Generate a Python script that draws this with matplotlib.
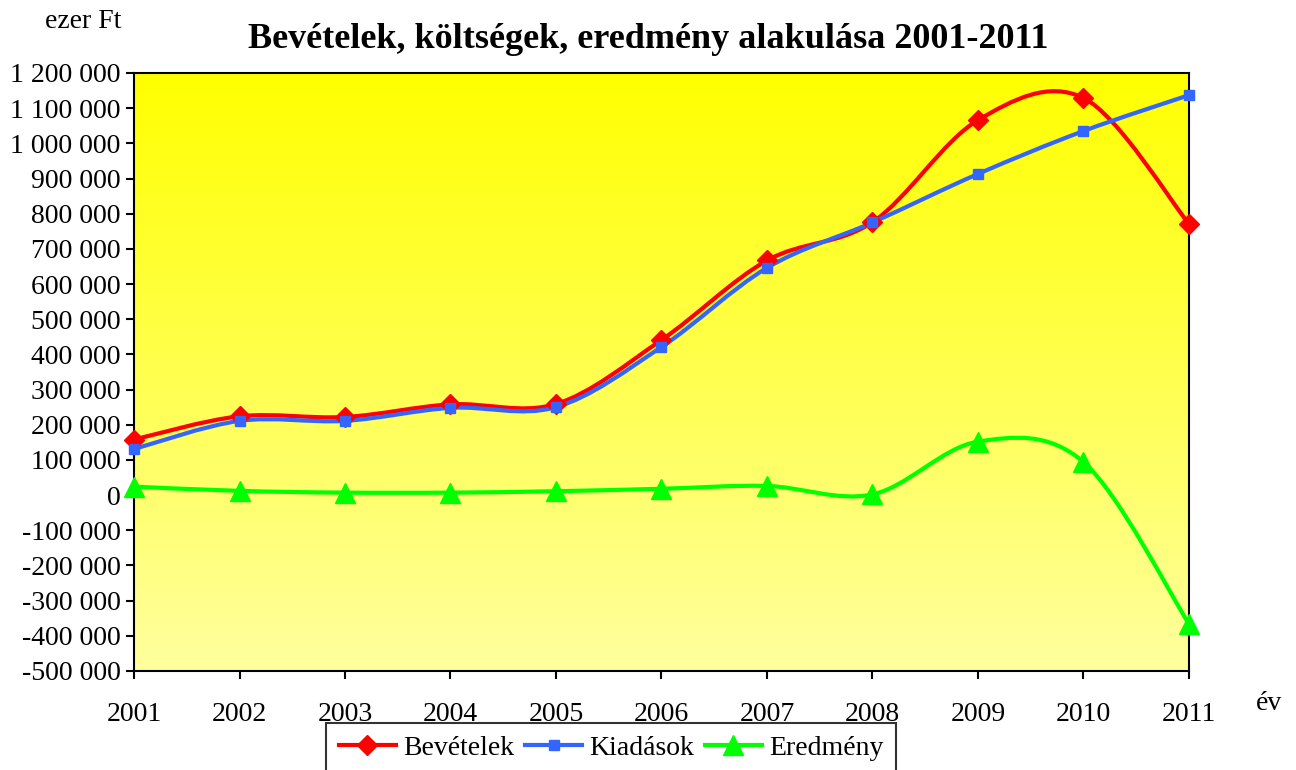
import numpy as np
import matplotlib
matplotlib.use("Agg")
import matplotlib.pyplot as plt
from matplotlib.path import Path
from matplotlib.patches import PathPatch
from matplotlib.lines import Line2D
from matplotlib.ticker import FuncFormatter

plt.rcParams['font.family'] = ['Liberation Serif', 'DejaVu Serif']

years = [2001, 2002, 2003, 2004, 2005, 2006, 2007, 2008, 2009, 2010, 2011]
bevetelek = [158000, 224000, 222000, 258000, 259000, 441000, 667000, 776000, 1066000, 1129000, 771000]
kiadasok = [131000, 211000, 211000, 248000, 250000, 421000, 646000, 775000, 913000, 1035000, 1137000]
eredmeny = [24000, 12000, 7000, 7000, 11000, 18000, 26000, 2000, 152000, 94000, -366000]

series = [
    ("Bevételek", bevetelek, "#ff0000", "D", 10.5),
    ("Kiadások", kiadasok, "#3366ff", "s", 7.5),
    ("Eredmény", eredmeny, "#00ff00", "^", 15),
]


def smooth_path(x, y):
    # Excel-like smoothed line: cubic bezier through the points
    x = np.asarray(x, float)
    y = np.asarray(y, float)
    n = len(x)
    verts = [(x[0], y[0])]
    codes = [Path.MOVETO]
    for i in range(n - 1):
        x0, y0 = (x[i - 1], y[i - 1]) if i > 0 else (x[i], y[i])
        x3, y3 = (x[i + 2], y[i + 2]) if i + 2 < n else (x[i + 1], y[i + 1])
        c1 = (x[i] + (x[i + 1] - x0) / 6, y[i] + (y[i + 1] - y0) / 6)
        c2 = (x[i + 1] - (x3 - x[i]) / 6, y[i + 1] - (y3 - y[i]) / 6)
        verts += [c1, c2, (x[i + 1], y[i + 1])]
        codes += [Path.CURVE4] * 3
    return Path(verts, codes)


fig = plt.figure(figsize=(12.96, 7.70), dpi=100)
ax = fig.add_axes([0.1034, 0.1286, 0.8140, 0.7766])

# gradient background, bright yellow at top -> pale at bottom
grad = np.linspace(0, 1, 256).reshape(-1, 1)
cols = np.ones((256, 1, 3))
cols[..., 2] = 0.62 * grad
ax.imshow(cols, extent=[0, 1, 0, 1], transform=ax.transAxes, aspect='auto', zorder=0)

handles = []
for name, vals, color, mk, ms in series:
    ax.add_patch(PathPatch(smooth_path(years, vals), fill=False, edgecolor=color, lw=3, zorder=3,
                           capstyle='round', joinstyle='round'))
    ax.plot(years, vals, linestyle='none', marker=mk, markersize=ms, color=color, zorder=4, clip_on=False)
    handles.append(Line2D([], [], color=color, lw=3, marker=mk, markersize=ms, label=name))

ax.set_xlim(2001, 2011)
ax.set_ylim(-500000, 1200000)
ax.set_xticks(years)
ax.set_yticks(range(-500000, 1200001, 100000))
ax.yaxis.set_major_formatter(FuncFormatter(lambda v, p: f"{int(v):,}".replace(",", " ")))
ax.tick_params(axis='both', direction='out', length=6, width=1.5, labelsize=20, colors='black')
ax.tick_params(axis='x', pad=16)
for s in ax.spines.values():
    s.set_linewidth(1.5)

fig.text(0.5, 0.949, "Bevételek, költségek, eredmény alakulása 2001-2011", ha='center', va='center',
         fontsize=26, fontweight='bold')
fig.text(0.064, 0.972, "ezer Ft", ha='center', va='center', fontsize=20)
fig.text(0.979, 0.086, "év", ha='center', va='center', fontsize=20)

leg = fig.legend(handles=handles, loc='upper center', bbox_to_anchor=(0.4715, 0.061), ncol=3,
                 fontsize=20, frameon=True, fancybox=False, edgecolor='black', handlelength=2.05,
                 columnspacing=0.4, handletextpad=0.25, borderpad=0.45, borderaxespad=0)
leg.get_frame().set_linewidth(1.5)

fig.savefig("out.png", dpi=100)
